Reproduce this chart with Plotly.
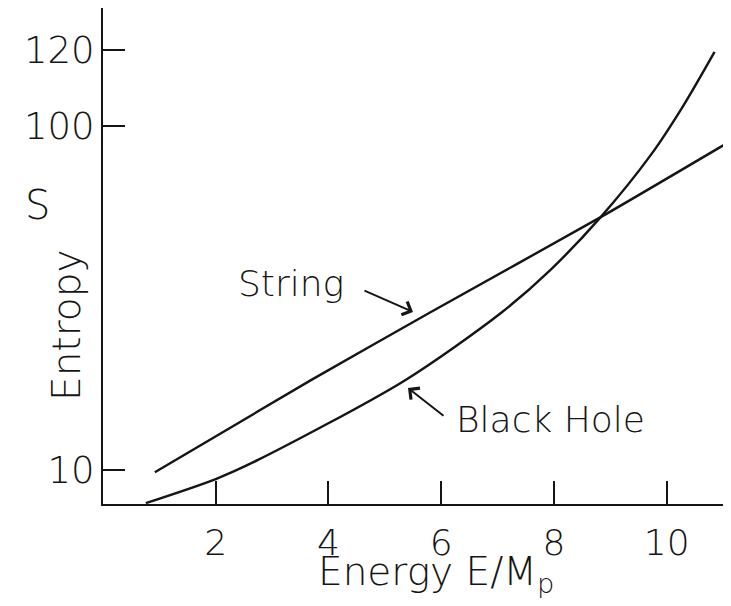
import plotly.graph_objects as go

# ---- data ----
string_E = [0.92, 3.69, 5.81, 8.83, 11.13]
string_S = [9.4, 33.5, 51.3, 76.2, 96.1]

bh_E = [0.76, 2.0, 2.75, 5.34, 7.06, 7.94, 8.83, 9.72, 10.30, 10.85]
bh_S = [1.3, 7.6, 12.6, 33.3, 51.1, 62.4, 76.2, 92.5, 105.5, 119.5]

x_ticks = [2, 4, 6, 8, 10]
y_ticks = [10, 100, 120]

# the page body has an 8px margin; keep the figure inside the 731x606 window
OFF = 8
SL, ST, SR, SB = 103, 8, 723, 504          # plot area in screen pixels
W, H = 731 - 2 * OFF, 606 - 2 * OFF
PW, PH = SR - SL, SB - ST
INK = "#151515"
FONT = "DejaVu Sans"


def px(x):
    return (x - SL) / PW


def py(y):
    return (SB - y) / PH


fig = go.Figure()
fig.add_trace(go.Scatter(x=string_E, y=string_S, mode="lines", name="String",
                         line=dict(color=INK, width=2.4, shape="spline", smoothing=0.6),
                         showlegend=False, hoverinfo="skip"))
fig.add_trace(go.Scatter(x=bh_E, y=bh_S, mode="lines", name="Black Hole",
                         line=dict(color=INK, width=2.4, shape="spline", smoothing=0.8),
                         showlegend=False, hoverinfo="skip"))

fig.update_layout(
    width=W, height=H,
    margin=dict(l=SL - OFF, r=(W + OFF - SR), t=ST - OFF, b=(H + OFF - SB), autoexpand=False),
    paper_bgcolor="white", plot_bgcolor="white",
    font=dict(family=FONT, color=INK, size=34, weight=300),
    xaxis=dict(range=[0, 11.0], tickvals=x_ticks, ticks="inside", ticklen=23,
               tickwidth=2, tickcolor=INK, showline=True, linewidth=2, linecolor=INK,
               showgrid=False, zeroline=False, ticklabelstandoff=6, automargin=False,
               tickfont=dict(size=36, family=FONT, color=INK, weight=300)),
    yaxis=dict(range=[1.06, 130.98], tickvals=y_ticks, ticks="inside", ticklen=22,
               tickwidth=2, tickcolor=INK, showline=True, linewidth=2, linecolor=INK,
               showgrid=False, zeroline=False, ticklabelstandoff=-1, automargin=False,
               tickfont=dict(size=37, family=FONT, color=INK, weight=300)),
)

ann_font = dict(family=FONT, color=INK, size=36, weight=300)
fig.add_annotation(x=px(291), y=py(283), xref="paper", yref="paper", text="String",
                   showarrow=False, font=ann_font, xanchor="center", yanchor="middle")
fig.add_annotation(x=px(550), y=py(419), xref="paper", yref="paper", text="Black Hole",
                   showarrow=False, font=ann_font, xanchor="center", yanchor="middle")
fig.add_annotation(x=px(413), y=py(312), xref="paper", yref="paper", text="",
                   showarrow=True, ax=363 - 413, ay=290 - 312, arrowhead=4,
                   arrowsize=1.4, arrowwidth=2, arrowcolor=INK, standoff=0, startstandoff=0)
fig.add_annotation(x=px(408), y=py(388), xref="paper", yref="paper", text="",
                   showarrow=True, ax=445 - 408, ay=417 - 388, arrowhead=4,
                   arrowsize=1.4, arrowwidth=2, arrowcolor=INK, standoff=0, startstandoff=0)
fig.add_annotation(x=px(37), y=py(205), xref="paper", yref="paper", text="S",
                   showarrow=False, font=dict(family=FONT, color=INK, size=40, weight=300),
                   xanchor="center", yanchor="middle")
fig.add_annotation(x=px(66), y=py(325), xref="paper", yref="paper", text="Entropy",
                   showarrow=False, textangle=-90,
                   font=dict(family=FONT, color=INK, size=39, weight=300),
                   xanchor="center", yanchor="middle")
fig.add_annotation(x=px(436), y=py(574), xref="paper", yref="paper",
                   text="Energy E/M<sub>p</sub>",
                   showarrow=False, font=dict(family=FONT, color=INK, size=39, weight=300),
                   xanchor="center", yanchor="middle")

fig.write_html("out.html")
